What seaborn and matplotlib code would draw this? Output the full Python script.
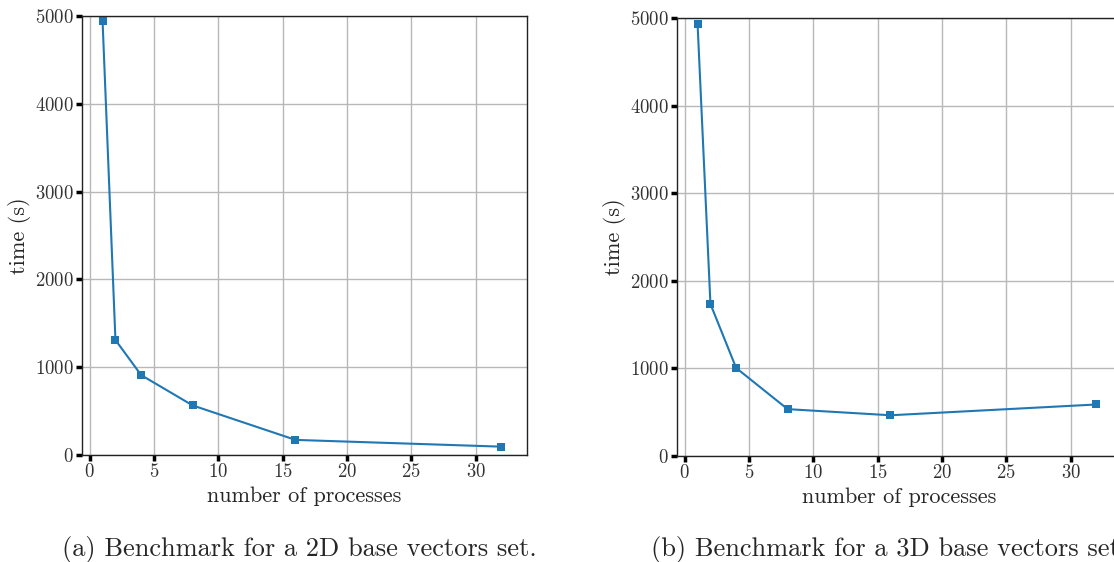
import pandas as pd
import seaborn as sns
import matplotlib.pyplot as plt

# benchmark data
processes = [1, 2, 4, 8, 16, 32]
time_2d = [4940, 1310, 910, 565, 172, 95]
time_3d = [4930, 1735, 1005, 535, 465, 588]
captions = ["(a) Benchmark for a 2D base vectors set.",
            "(b) Benchmark for a 3D base vectors set."]

sns.set_theme(style="ticks")
plt.rcParams['font.family'] = ['cmr10', 'DejaVu Serif']
plt.rcParams['mathtext.fontset'] = 'cm'
plt.rcParams['axes.formatter.use_mathtext'] = True

fig = plt.figure(figsize=(11.14, 5.62), dpi=100)
ax_a = fig.add_axes([82 / 1114, 107 / 562, 445 / 1114, 439 / 562])
ax_b = fig.add_axes([677 / 1114, 106 / 562, 445 / 1114, 438 / 562])
cap_x = [299 / 1114, 889 / 1114]

for ax, times, cap, cx in [(ax_a, time_2d, captions[0], cap_x[0]),
                           (ax_b, time_3d, captions[1], cap_x[1])]:
    df = pd.DataFrame({'processes': processes, 'time': times})
    sns.lineplot(data=df, x='processes', y='time', ax=ax, color='#1f77b4',
                 marker='s', markersize=5.5, markeredgewidth=0, linewidth=1.5)
    ax.set_ylim(0, 5000)
    ax.set_xlim(-0.6, 34)
    ax.set_xticks([0, 5, 10, 15, 20, 25, 30])
    ax.set_yticks([0, 1000, 2000, 3000, 4000, 5000])
    ax.grid(True, color='#b8b8b8', linewidth=1)
    ax.set_axisbelow(True)
    ax.set_xlabel('number of processes', fontsize=16, labelpad=4)
    ax.set_ylabel('time (s)', fontsize=16, labelpad=3)
    ax.tick_params(axis='both', which='major', length=4, width=2.5,
                   color='black', labelsize=13.5, labelcolor='#333333', pad=2)
    for sp in ax.spines.values():
        sp.set_color('#222222')
        sp.set_linewidth(1)
    # the reference figure is cropped on the right, so caption (b) runs off the edge
    fig.text(cx, 0.022, cap, ha='center', va='center', fontsize=19)

fig.savefig('out.png', dpi=100)
